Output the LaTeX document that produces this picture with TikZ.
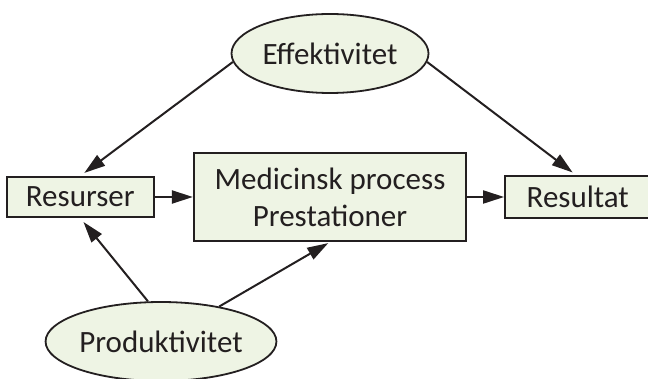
\documentclass[tikz,border=0pt]{standalone}
\usepackage{fontspec}
\setmainfont{Carlito}
\usepackage{xcolor}
\usepackage{tikz}
\usetikzlibrary{positioning, arrows.meta, shapes.geometric}
\definecolor{paleGreen}{HTML}{EEF4E4}
\definecolor{inkGray}{HTML}{231F20}
\tikzset{
    block/.style={rectangle, draw=inkGray, line width=2.2pt, fill=paleGreen, align=center, inner sep=0pt, text=inkGray, font=\fontsize{31}{37}\selectfont},
    factor/.style={ellipse, draw=inkGray, line width=1.8pt, fill=paleGreen, inner sep=0pt, minimum width=197pt, minimum height=79pt, text=inkGray, font=\fontsize{31}{37}\selectfont},
    arrow/.style={-{Triangle[length=21pt, width=13pt]}, line width=2pt, draw=inkGray}
}

\begin{document}
\begin{tikzpicture}[x=1pt, y=-1pt]
        \useasboundingbox (0,0) rectangle (648,379);
        \node[block, minimum width=272pt, minimum height=88pt] (Med) at (330,197) {Medicinsk process\\Prestationer};
        \node[block, left=38pt of Med, minimum width=147pt, minimum height=40pt] (Res) {Resurser};
        \node[block, right=37pt of Med, minimum width=160pt, minimum height=42pt, text width=145pt, align=left] (Result) {\hspace*{14pt}Resultat};
        
        \node[factor, above=58pt of Med] (Eff) {Effektivitet};
        \node[factor, below=59pt of Med, xshift=-169pt] (Prod) {Produktivitet};
        
        \draw[arrow, shorten >=5pt] (Eff.185) -- (Res.north);
        \draw[arrow, shorten >=4pt] (Eff.355) -- (Result.113);
        \draw[arrow] (Res.east) -- (Med.west);
        \draw[arrow] (Med.east) -- (Result.west);
        \draw[arrow, shorten >=5pt] (Prod.108) -- (Res.south);
        \draw[arrow, shorten >=2pt] (Prod.31) -- (Med.south);
    \end{tikzpicture}
\end{document}
